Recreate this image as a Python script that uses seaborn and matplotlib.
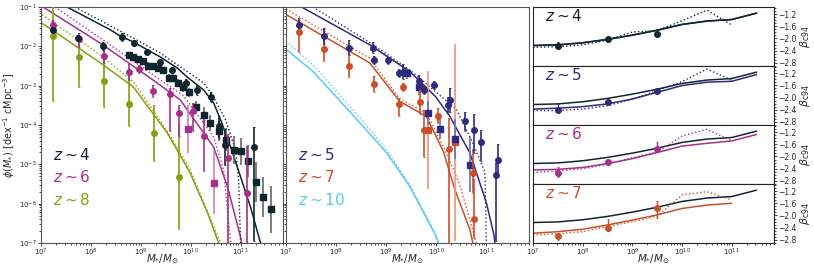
import numpy as np
import matplotlib
matplotlib.use("Agg")
import matplotlib.pyplot as plt
import seaborn as sns

sns.set_style("ticks")

# colours per redshift
colors = {4: "#10262e", 5: "#2f2b7c", 6: "#a5308c", 7: "#cc4f2a", 8: "#8a9c12", 10: "#5bc9f5"}
light = {4: "#666666", 5: "#6f6cb0", 6: "#cf7fba", 7: "#e8957a"}

# ---- stellar mass functions: model lines (log M, log phi) ----
smf_solid_m = {
    4: [7.52, 8.39, 8.55, 8.85, 9.39, 9.73, 9.93, 10.26, 10.46, 10.60, 10.80, 11.0, 11.2, 11.40],
    6: [7.04, 8.19, 9.25, 9.79, 10.46, 10.74, 11.0, 11.02],
    8: [7.02, 8.19, 8.85, 9.53, 9.99, 10.34, 10.56],
    5: [7.31, 8.67, 9.47, 9.98, 10.27, 10.67, 11.0, 11.15, 11.17],
    7: [7.0, 8.67, 9.27, 9.80, 10.14, 10.37, 10.67, 10.73],
    10: [7.0, 7.54, 8.48, 9.01, 9.47, 9.98, 10.04],
}
smf_solid_phi = {
    4: [-1.0, -1.58, -1.71, -1.89, -2.27, -2.55, -2.78, -3.11, -3.44, -3.87, -4.56, -5.32, -6.09, -7.0],
    6: [-1.0, -1.92, -2.86, -3.36, -4.56, -5.58, -6.85, -7.0],
    8: [-1.41, -2.42, -3.03, -4.2, -5.22, -6.24, -7.0],
    5: [-1.0, -1.96, -2.64, -3.27, -3.78, -4.71, -5.98, -6.79, -7.0],
    7: [-1.19, -2.42, -3.40, -3.78, -4.67, -5.64, -6.66, -7.0],
    10: [-2.07, -2.64, -3.95, -4.71, -5.56, -6.79, -7.0],
}
smf_dot_m = {
    4: [7.68, 8.85, 9.39, 10.26, 10.46, 10.70, 10.90, 10.96, 11.0],
    6: [7.28, 8.19, 9.25, 9.85, 10.46, 10.66, 10.80],
    8: [7.02, 8.19, 8.85, 9.53, 9.99, 10.60],
    5: [7.54, 8.67, 9.47, 10.40, 10.73, 10.97, 11.0],
    7: [7.0, 8.67, 9.27, 9.80, 10.20, 10.47, 10.80],
    10: [7.0, 7.54, 8.48, 9.01, 9.47, 9.98, 10.04],
}
smf_dot_phi = {
    4: [-1.0, -1.79, -2.17, -2.93, -3.29, -3.87, -4.64, -5.4, -7.0],
    6: [-1.0, -1.79, -2.73, -3.25, -4.30, -5.14, -7.0],
    8: [-1.2, -2.22, -2.9, -4.15, -5.14, -7.0],
    5: [-1.0, -1.9, -2.6, -3.6, -4.46, -5.2, -7.0],
    7: [-1.05, -2.3, -3.34, -3.69, -4.71, -5.52, -7.0],
    10: [-1.87, -2.47, -3.82, -4.63, -5.52, -6.75, -7.0],
}

# ---- observed mass functions: circles ----
obs_c_m = {
    4: [7.25, 7.75, 8.25, 8.63, 8.87, 9.13, 9.39, 9.63, 9.90, 10.13, 10.40, 10.56, 10.68, 11.27],
    6: [7.25, 7.76, 8.26, 8.76, 8.96, 9.25, 9.58, 9.76, 10.05, 10.26, 10.75, 11.12],
    8: [7.25, 7.76, 8.26, 8.76, 9.26, 9.76],
    5: [7.26, 7.76, 8.26, 8.73, 8.75, 9.04, 9.25, 9.34, 9.65, 9.75, 9.96, 10.24, 10.28, 10.58, 10.75, 10.89, 11.20, 11.23],
    7: [7.26, 7.76, 8.26, 8.75, 9.26, 9.33, 9.68, 9.75, 10.04, 10.25, 10.73, 10.75],
}
obs_c_phi = {
    4: [-1.58, -1.79, -2.0, -1.76, -1.92, -2.14, -2.4, -2.6, -2.93, -3.11, -3.29, -4.03, -4.51, -4.56],
    6: [-1.47, -1.81, -2.25, -2.66, -2.58, -3.14, -3.2, -3.69, -3.65, -4.27, -4.84, -5.73],
    8: [-1.73, -2.28, -2.89, -3.46, -4.2, -5.31],
    5: [-1.47, -1.73, -2.03, -2.03, -2.34, -2.36, -2.68, -2.64, -2.87, -3.10, -2.99, -3.48, -3.37, -3.91, -4.12, -4.42, -5.26, -4.88],
    7: [-1.64, -2.07, -2.49, -2.96, -3.46, -3.04, -3.42, -4.12, -3.76, -4.61, -5.22, -6.38],
}
obs_c_lo = {
    4: [0.08, 0.08, 0.1, 0.1, 0.08, 0.06, 0.08, 0.08, 0.1, 0.12, 0.12, 0.3, 0.5, 2.4],
    6: [0.15, 0.2, 0.17, 0.2, 0.1, 0.15, 0.96, 0.6, 0.5, 0.9, 2.2, 1.3],
    8: [1.66, 0.75, 0.65, 0.57, 0.72, 1.33],
    5: [0.2, 0.2, 0.2, 0.15, 0.1, 0.1, 0.1, 0.2, 0.15, 0.1, 0.1, 0.2, 0.3, 0.25, 0.6, 0.5, 1.7, 0.4],
    7: [0.5, 0.3, 0.3, 0.2, 0.3, 0.1, 0.3, 0.7, 0.2, 2.4, 0.5, 0.5],
}
obs_c_hi = {
    4: [0.08, 0.08, 0.1, 0.1, 0.08, 0.06, 0.08, 0.08, 0.1, 0.12, 0.12, 0.25, 0.4, 0.5],
    6: [0.15, 0.15, 0.17, 0.2, 0.1, 0.15, 0.14, 0.2, 0.2, 0.4, 0.6, 1.2],
    8: [0.73, 0.53, 0.76, 0.78, 0.71, 1.32],
    5: [0.2, 0.2, 0.2, 0.15, 0.1, 0.1, 0.1, 0.2, 0.15, 0.1, 0.1, 0.2, 0.3, 0.25, 0.4, 0.3, 0.3, 0.4],
    7: [0.3, 0.5, 0.3, 0.2, 0.15, 0.1, 0.3, 0.5, 0.2, 0.8, 0.6, 1.0],
}

# ---- observed mass functions: squares ----
obs_s_m = {
    4: [8.76, 8.85, 8.94, 9.05, 9.15, 9.25, 9.34, 9.45, 9.56, 9.65, 9.75, 9.85, 9.96, 10.10,
        10.26, 10.38, 10.56, 10.70, 10.87, 11.0, 11.15, 11.30, 11.44, 11.60],
    6: [9.95, 10.46],
    5: [9.42, 9.65, 9.84, 10.08, 10.37, 10.67],
    7: [9.84, 10.38],
}
obs_s_phi = {
    4: [-2.21, -2.27, -2.32, -2.38, -2.49, -2.51, -2.55, -2.61, -2.81, -2.81, -2.92, -3.03, -3.17, -3.54,
        -3.74, -3.95, -4.16, -4.37, -4.63, -4.67, -4.92, -5.45, -5.83, -6.14],
    6: [-4.1, -5.47],
    5: [-2.69, -3.03, -3.69, -4.1, -4.36, -5.01],
    7: [-4.12, -4.44],
}
obs_s_err = {
    4: [0.07, 0.07, 0.07, 0.07, 0.08, 0.08, 0.08, 0.08, 0.1, 0.1, 0.1, 0.12, 0.12, 0.15,
        0.2, 0.2, 0.25, 0.3, 0.35, 0.35, 0.4, 0.5, 0.5, 0.6],
    6: [0.6, 0.8],
    5: [0.15, 0.2, 0.3, 0.25, 0.5, 0.7],
    7: [1.5, 2.5],
}

# ---- UV slopes beta vs stellar mass (right column) ----
beta_m = [7.0, 7.5, 8.0, 8.5, 9.0, 9.5, 10.0, 10.5, 11.0, 11.5]
beta_ref = [-2.23, -2.21, -2.14, -2.03, -1.89, -1.73, -1.54, -1.43, -1.38, -1.17]
beta_solid = {
    4: [-2.23, -2.21, -2.14, -2.03, -1.89, -1.73, -1.54, -1.43, -1.38, -1.17],
    5: [-2.38, -2.35, -2.30, -2.21, -2.05, -1.83, -1.61, -1.50, -1.47, -1.25],
    6: [-2.44, -2.42, -2.36, -2.23, -2.07, -1.87, -1.66, -1.57, -1.49, -1.28],
    7: [-2.58, -2.53, -2.45, -2.31, -2.15, -1.98, -1.77, -1.66, -1.60],
}
beta_dot = {
    4: [-2.29, -2.27, -2.21, -2.05, -1.79, -1.74, -1.42, -1.07, -1.56],
    5: [-2.43, -2.43, -2.38, -2.27, -2.05, -1.78, -1.48, -1.07, -1.43],
    6: [-2.53, -2.47, -2.40, -2.26, -2.04, -1.85, -1.33, -1.11, -1.49],
    7: [-2.64, -2.60, -2.53, -2.36, -2.20, -2.02, -1.33, -1.22, -1.49],
}
beta_obs_m = [7.5, 8.5, 9.5]
beta_obs = {4: [-2.23, -2.03, -1.86], 5: [-2.41, -2.16, -1.80], 6: [-2.55, -2.18, -1.74], 7: [-2.67, -2.40, -1.77]}
beta_obs_lo = {4: [0.05, 0.04, 0.03], 5: [0.08, 0.05, 0.04], 6: [0.12, 0.06, 0.12], 7: [0.12, 0.1, 0.3]}
beta_obs_hi = {4: [0.1, 0.04, 0.03], 5: [0.2, 0.05, 0.04], 6: [0.22, 0.06, 0.2], 7: [0.1, 0.3, 0.25]}

W, H = 814, 274
fig = plt.figure(figsize=(W / 100, H / 100), dpi=100)
XMAX = 10 ** 11.85
spine_c = "#555555"


def fa(x0, y0, x1, y1):
    return fig.add_axes([x0 / W, 1 - y1 / H, (x1 - x0) / W, (y1 - y0) / H])


def draw_smf(ax, z):
    c = colors[z]
    sns.lineplot(x=10 ** np.array(smf_solid_m[z]), y=10 ** np.array(smf_solid_phi[z]),
                 ax=ax, color=c, lw=1.1, sort=False)
    sns.lineplot(x=10 ** np.array(smf_dot_m[z]), y=10 ** np.array(smf_dot_phi[z]),
                 ax=ax, color=c, lw=1.0, ls=":", sort=False)
    if z in obs_s_m:
        lp = np.array(obs_s_phi[z]); e = np.array(obs_s_err[z])
        ax.errorbar(10 ** np.array(obs_s_m[z]), 10 ** lp,
                    yerr=[10 ** lp - 10 ** (lp - e), 10 ** (lp + e) - 10 ** lp],
                    fmt="s", ms=4, color=c, ecolor=light[z], elinewidth=1.2, capsize=0, zorder=4)
    if z in obs_c_m:
        lp = np.array(obs_c_phi[z])
        lo = np.array(obs_c_lo[z]); hi = np.array(obs_c_hi[z])
        ax.errorbar(10 ** np.array(obs_c_m[z]), 10 ** lp,
                    yerr=[10 ** lp - 10 ** (lp - lo), 10 ** (lp + hi) - 10 ** lp],
                    fmt="o", ms=4, color=c, elinewidth=1.2, capsize=1, capthick=0.6, zorder=5)


def style_smf(ax, labels):
    ax.set_xscale("log"); ax.set_yscale("log")
    ax.set_xlim(1e7, XMAX); ax.set_ylim(1e-7, 1e-1)
    ax.tick_params(which="both", labelsize=5, direction="out", length=2, width=0.6, pad=1)
    ax.tick_params(which="minor", length=1.2)
    for s in ax.spines.values():
        s.set_color(spine_c); s.set_linewidth(0.8)
    ax.set_xlabel(r"$M_{*}/M_{\odot}$", fontsize=7.5)
    ax.xaxis.set_label_coords(0.5, -0.04)
    ax.set_ylabel("")
    for i, z in enumerate(labels):
        ax.text(0.05, 0.373 - i * 0.095, rf"$z\sim{z}$", transform=ax.transAxes,
                color=colors[z], fontsize=11, va="center")


ax1 = fa(41, 7, 283, 243)
for z in [8, 6, 4]:
    draw_smf(ax1, z)
style_smf(ax1, [4, 6, 8])
ax1.set_ylabel(r"$\phi(M_{*})$ [dex$^{-1}$ cMpc$^{-3}$]", fontsize=7)
ax1.yaxis.set_label_coords(-0.098, 0.5)

ax2 = fa(286, 7, 529, 243)
for z in [10, 7, 5]:
    draw_smf(ax2, z)
style_smf(ax2, [5, 7, 10])
ax2.tick_params(axis="y", which="both", labelleft=False)

# right column
tops = [7, 66, 125, 184, 243]
for i, z in enumerate([4, 5, 6, 7]):
    ax = fa(533, tops[i], 774, tops[i + 1])
    c = colors[z]
    sns.lineplot(x=10 ** np.array(beta_m), y=beta_ref, ax=ax, color=colors[4], lw=1.1)
    n = len(beta_solid[z])
    sns.lineplot(x=10 ** np.array(beta_m[:n]), y=beta_solid[z], ax=ax, color=c, lw=1.1)
    n = len(beta_dot[z])
    sns.lineplot(x=10 ** np.array(beta_m[:n]), y=beta_dot[z], ax=ax, color=c, lw=1.0, ls=":")
    ax.errorbar(10 ** np.array(beta_obs_m), beta_obs[z], yerr=[beta_obs_lo[z], beta_obs_hi[z]],
                fmt="o", ms=4, color=c, elinewidth=1.0, capsize=1, capthick=0.6, zorder=5)
    ax.set_xscale("log")
    ax.set_xlim(1e7, XMAX)
    ax.set_ylim(-2.9, -0.97)
    ax.yaxis.tick_right()
    ax.yaxis.set_label_position("right")
    ax.set_yticks([-1.2, -1.6, -2.0, -2.4, -2.8])
    ax.set_yticks(np.arange(-2.9, -0.95, 0.1), minor=True)
    ax.tick_params(which="both", labelsize=5.5, direction="out", length=2, width=0.6, pad=1)
    ax.tick_params(which="minor", length=1.2)
    ax.set_ylabel(r"$\beta_{\rm c94}$", fontsize=8, labelpad=1)
    for s in ax.spines.values():
        s.set_color("#222222"); s.set_linewidth(0.8)
    ax.text(0.05, 0.85, rf"$z\sim{z}$", transform=ax.transAxes, color=c, fontsize=11, va="center")
    if i < 3:
        ax.tick_params(axis="x", which="both", labelbottom=False)
        ax.set_xlabel("")
    else:
        ax.tick_params(axis="x", which="both", labelsize=5)
        ax.set_xlabel(r"$M_{*}/M_{\odot}$", fontsize=7.5)
        ax.xaxis.set_label_coords(0.5, -0.16)

fig.savefig("out.png", dpi=100)
